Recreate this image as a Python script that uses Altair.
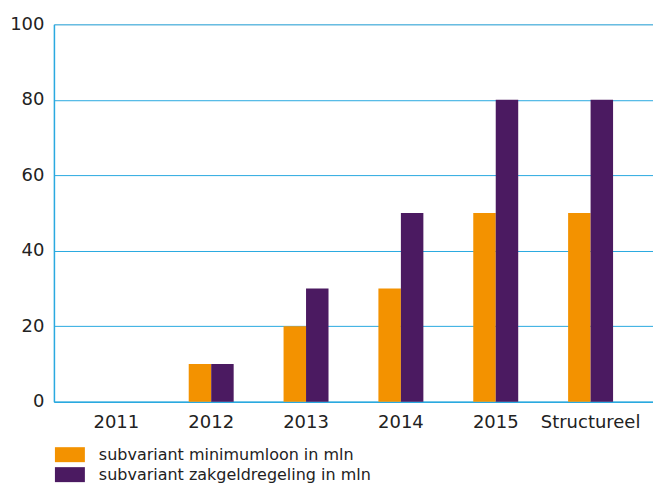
import altair as alt
import pandas as pd

categories = ["2011", "2012", "2013", "2014", "2015", "Structureel"]
minimumloon = [0, 10, 20, 30, 50, 50]
zakgeld = [0, 10, 30, 50, 80, 80]
series_names = ["subvariant minimumloon in mln", "subvariant zakgeldregeling in mln"]
colors = ["#F39200", "#4B1A61"]

rows = []
for c, a, b in zip(categories, minimumloon, zakgeld):
    rows.append({"cat": c, "serie": series_names[0], "val": a})
    rows.append({"cat": c, "serie": series_names[1], "val": b})
df = pd.DataFrame(rows)

blue = "#29A9E0"
font = "DejaVu Sans"

chart = alt.Chart(df).mark_bar().encode(
    x=alt.X("cat:N", sort=categories,
            scale=alt.Scale(paddingInner=0.526, paddingOuter=0.421),
            axis=alt.Axis(title=None, labelAngle=0, ticks=False, domainColor=blue,
                          domainWidth=1.5, labelFontSize=18, labelFont=font,
                          labelColor="#222222", labelPadding=12)),
    xOffset=alt.XOffset("serie:N", sort=series_names, scale=alt.Scale(paddingInner=0, paddingOuter=0)),
    y=alt.Y("val:Q", scale=alt.Scale(domain=[0, 100], nice=False),
            axis=alt.Axis(title=None, values=[0, 20, 40, 60, 80, 100], ticks=False,
                          domainColor=blue, domainWidth=1.5, gridColor=blue, gridWidth=1,
                          labelFontSize=18, labelFont=font, labelColor="#222222",
                          labelPadding=10)),
    color=alt.Color("serie:N", sort=series_names,
                    scale=alt.Scale(domain=series_names, range=colors),
                    legend=alt.Legend(title=None, orient="none", legendX=8, legendY=423,
                                      direction="vertical",
                                      symbolType="M-2,-1H2V1H-2Z", symbolSize=225,
                                      symbolStrokeWidth=0, labelFontSize=16, labelFont=font,
                                      labelColor="#222222", rowPadding=4, labelOffset=21,
                                      labelLimit=500)),
).properties(
    width=600, height=378,
    padding={"left": 1, "top": 7, "right": 0, "bottom": 0},
).configure_view(stroke=None).configure(background="white")

chart.save("out.html", embed_options={"renderer": "svg", "actions": False})
